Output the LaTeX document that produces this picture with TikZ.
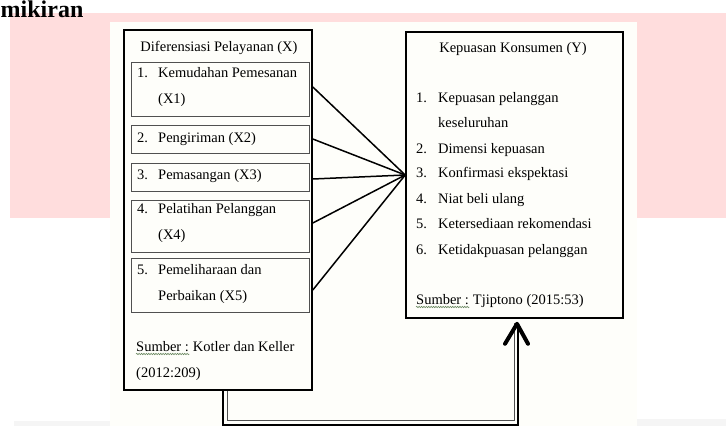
\documentclass[tikz,border=0pt]{standalone}
\usepackage{fontspec}
\setmainfont{Liberation Serif}
\usetikzlibrary{calc,decorations.pathmorphing}
\definecolor{pinkbg}{RGB}{255,221,221}
\definecolor{paper}{RGB}{254,254,250}
\definecolor{itemgray}{RGB}{80,80,80}
\definecolor{squig}{RGB}{105,135,95}
\tikzset{
  txt/.style={anchor=base west, inner sep=0pt, font=\fontsize{14.5}{26}\selectfont},
  outerbox/.style={draw=black, line width=1.6pt},
  itembox/.style={draw=itemgray, line width=0.9pt},
  spoke/.style={draw=black, line width=1.5pt},
  feedout/.style={draw=black, line width=1.8pt},
  feedin/.style={draw=itemgray, line width=0.8pt},
  chevron/.style={draw=black, line width=4pt, line cap=round, line join=round},
  squiggle/.style={draw=squig, line width=0.6pt, decorate,
    decoration={snake, amplitude=0.7pt, segment length=2.4pt}}
}

\begin{document}
\begin{tikzpicture}[x=1pt,y=1pt,yscale=-1,xscale=1]
\useasboundingbox (0,0) rectangle (726,426);

%Shape: Rectangle [page background]
\fill [pinkbg] (10,13) rectangle (726,218);
\fill [paper] (110,22) rectangle (637,426);
\fill [gray!8] (14,421) rectangle (110,426);
\fill [gray!8] (637,419) rectangle (726,426);

% Text Node
\node (head) [anchor=base west, inner sep=0pt, font=\fontsize{24}{26}\bfseries] at (0.5,17.6) {mikiran};

%Shape: Rectangle [left box]
\node (diff) [outerbox, minimum width=188pt, minimum height=360pt] at (218,210) {};
%Shape: Rectangle [right box]
\node (puas) [outerbox, minimum width=217pt, minimum height=286pt] at (514.5,175) {};

%Shape: Rectangle [items]
\node (x1) [itembox, minimum width=178pt, minimum height=54pt] at (220,89) {};
\node (x2) [itembox, minimum width=178pt, minimum height=28pt] at (220,139) {};
\node (x3) [itembox, minimum width=178pt, minimum height=28pt] at (220,177) {};
\node (x4) [itembox, minimum width=178pt, minimum height=52pt] at (220,226) {};
\node (x5) [itembox, minimum width=178pt, minimum height=54pt] at (220,285) {};

% Text Node
\node (tdiff) [txt, anchor=base] at (219,51) {Diferensiasi Pelayanan (X)};
\node (n1) [txt] at (137,77) {1.};
\node (t1a) [txt] at (158,77) {Kemudahan Pemesanan};
\node (t1b) [txt] at (158,103) {(X1)};
\node (n2) [txt] at (137,142) {2.};
\node (t2) [txt] at (158,142) {Pengiriman (X2)};
\node (n3) [txt] at (137,179) {3.};
\node (t3) [txt] at (158,179) {Pemasangan (X3)};
\node (n4) [txt] at (137,213) {4.};
\node (t4a) [txt] at (158,213) {Pelatihan Pelanggan};
\node (t4b) [txt] at (158,239) {(X4)};
\node (n5) [txt] at (137,274) {5.};
\node (t5a) [txt] at (158,274) {Pemeliharaan dan};
\node (t5b) [txt] at (158,300) {Perbaikan (X5)};
\node (srcL) [txt] at (136,351) {Sumber :};
\node (srcLb) [txt] at ($(srcL.base east)+(3.6,0)$) {Kotler dan Keller};
\node (srcLc) [txt] at (136,377) {(2012:209)};

% Text Node
\node (tpuas) [txt, anchor=base] at (513,52) {Kepuasan Konsumen (Y)};
\node (m1) [txt] at (416,102) {1.};
\node (y1a) [txt] at (438,102) {Kepuasan pelanggan};
\node (y1b) [txt] at (438,127) {keseluruhan};
\node (m2) [txt] at (416,153) {2.};
\node (y2) [txt] at (438,153) {Dimensi kepuasan};
\node (m3) [txt] at (416,177) {3.};
\node (y3) [txt] at (438,177) {Konfirmasi ekspektasi};
\node (m4) [txt] at (416,203) {4.};
\node (y4) [txt] at (438,203) {Niat beli ulang};
\node (m5) [txt] at (416,228) {5.};
\node (y5) [txt] at (438,228) {Ketersediaan rekomendasi};
\node (m6) [txt] at (416,254) {6.};
\node (y6) [txt] at (438,254) {Ketidakpuasan pelanggan};
\node (srcR) [txt] at (416,304) {Sumber :};
\node (srcRb) [txt] at ($(srcR.base east)+(3.6,0)$) {Tjiptono (2015:53)};

%Shape: Wave [spelling marks]
\draw [squiggle] ($(srcL.base west)+(0,3)$) -- ($(srcL.base east)+(0,3)$);
\draw [squiggle] ($(srcR.base west)+(0,3)$) -- ($(srcR.base east)+(0,3)$);

%Straight Lines [items to right box]
\coordinate (s1) at ($(diff.east |- x1.east)+(0,-2)$);
\coordinate (s2) at ($(diff.east |- x2.east)+(0,0)$);
\coordinate (s3) at ($(diff.east |- x3.east)+(0,2)$);
\coordinate (s4) at ($(diff.east |- x4.east)+(0,-3)$);
\coordinate (s5) at ($(diff.east |- x5.east)+(0,5)$);
\foreach \s in {s1,s2,s3,s4,s5}
  \draw [spoke] (\s) -- (puas.west);

%Straight Lines [bottom link]
\coordinate (upL) at ($(diff.south)+(5,0)$);
\coordinate (upLi) at ($(diff.south)+(9,0)$);
\coordinate (tip) at ($(puas.south)+(3.5,4)$);
\draw [feedout] (upL) |- ($(tip)+(0,102)$) -- (tip);
\draw [feedin] (upLi) |- ($(tip)+(-4,98)$) -- ($(tip)+(-4,0)$);
\draw [chevron] ($(tip)+(-13,21)$) -- ($(tip)+(-1,1)$) -- ($(tip)+(10,21)$);

\end{tikzpicture}
\end{document}
